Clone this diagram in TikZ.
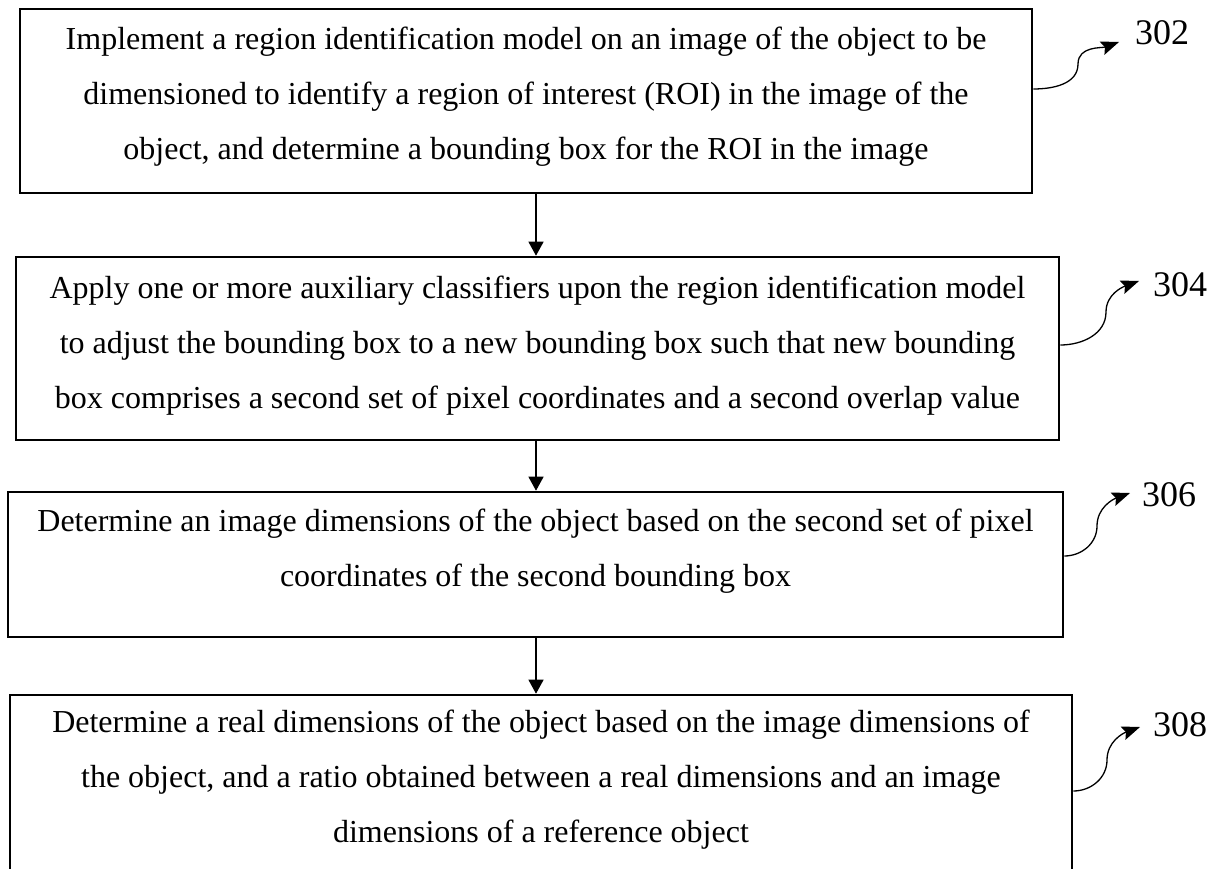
\documentclass[tikz,border=0pt]{standalone}
\usepackage{fontspec}
\setmainfont{Liberation Serif}
\usetikzlibrary{arrows.meta,positioning}

\begin{document}
\begin{tikzpicture}[x=1pt,y=-1pt,
    stepbox/.style={draw,line width=2.6pt,inner sep=0pt},
    steptext/.style={align=center,inner sep=0pt,anchor=north,
      font=\fontsize{32}{55}\selectfont},
    flow/.style={line width=1.3pt,-{Triangle[length=14pt,width=15pt]}},
    tagline/.style={line width=1.3pt,-{Stealth[length=18pt,width=14pt,inset=3pt]}},
    tagnum/.style={anchor=west,inner sep=0pt,font=\fontsize{36}{40}\selectfont}]
    \useasboundingbox (0,0) rectangle (1223,869);

    \node[stepbox,minimum width=1012pt,minimum height=184pt] (s302) at (526,101) {};
    \node[steptext,below=19pt of s302.north] (t302)
	{Implement a region identification model on an image of the object to be\\
	dimensioned to identify a region of interest (ROI) in the image of the\\
	object, and determine a bounding box for the ROI in the image};

    \node[stepbox,minimum width=1043pt,minimum height=183pt] (s304) at (537.5,348.5) {};
    \node[steptext,below=20pt of s304.north] (t304)
	{Apply one or more auxiliary classifiers upon the region identification model\\
	to adjust the bounding box to a new bounding box such that new bounding\\
	box comprises a second set of pixel coordinates and a second overlap value};

    \node[stepbox,minimum width=1055pt,minimum height=145pt] (s306) at (535.5,564.5) {};
    \node[steptext,below=18pt of s306.north] (t306)
	{Determine an image dimensions of the object based on the second set of pixel\\
	coordinates of the second bounding box};

    \node[stepbox,minimum width=1062pt,minimum height=200pt] (s308) at (541,795) {};
    \node[steptext,below=16pt of s308.north] (t308)
	{Determine a real dimensions of the object based on the image dimensions of\\
	the object, and a ratio obtained between a real dimensions and an image\\
	dimensions of a reference object};

    \coordinate (axis) at (536,0);
    \draw[flow] (s302.south -| axis) -- (s304.north -| axis);
    \draw[flow] (s304.south -| axis) -- (s306.north -| axis);
    \draw[flow] (s306.south -| axis) -- (s308.north -| axis);

    \node[tagnum] (n302) at (1135,33) {302};
    \node[tagnum] (n304) at (1153,285) {304};
    \node[tagnum] (n306) at (1142,495) {306};
    \node[tagnum] (n308) at (1153,725) {308};

    \coordinate (c302) at (s302.east |- 0,89);
    \coordinate (c304) at (s304.east |- 0,345);
    \coordinate (c306) at (s306.east |- 0,556);
    \coordinate (c308) at (s308.east |- 0,791);
    \coordinate (a302) at (1119,42);
    \coordinate (a304) at (1139,281);
    \coordinate (a306) at (1130,493);
    \coordinate (a308) at (1140,727);

    \draw[tagline] (c302) to[out=0,in=-90] (1078,64) to[out=90,in=200] (a302);
    \draw[tagline] (c304) to[out=0,in=-90] (1106,312) to[out=90,in=200] (a304);
    \draw[tagline] (c306) to[out=0,in=-90] (1097,526) to[out=90,in=200] (a306);
    \draw[tagline] (c308) to[out=0,in=-90] (1107,760) to[out=90,in=200] (a308);
\end{tikzpicture}
\end{document}
